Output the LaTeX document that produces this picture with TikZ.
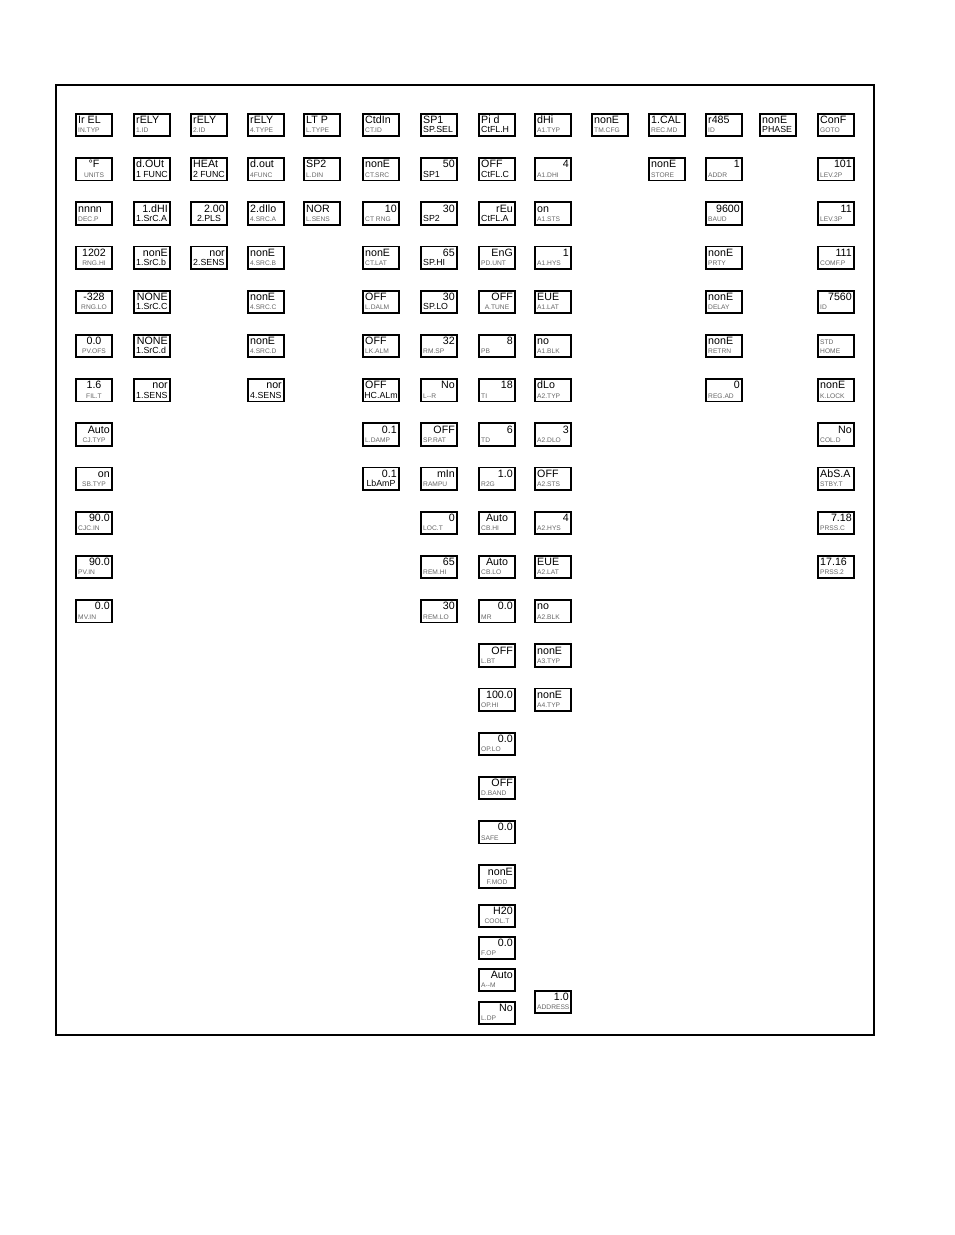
\documentclass[tikz,border=0pt]{standalone}
\usepackage{fontspec}
\setmainfont{Liberation Sans}
\newcommand{\valfont}{\fontsize{8}{8}\selectfont}
\newcommand{\smfont}{\fontsize{5}{5}\selectfont}
\newcommand{\bgfont}{\fontsize{6.6}{6.6}\selectfont}
\tikzset{
  disp/.style={draw, line width=1.35pt, inner sep=0pt, outer sep=0pt,
    minimum width=27.3pt, minimum height=16.8pt},
  val/.style={inner sep=0pt, font=\valfont},
  lsm/.style={inner sep=0pt, font=\smfont, text=black!60},
  lbg/.style={inner sep=0pt, font=\bgfont},
  vl/.style={anchor=base west, at={([xshift=1.6pt,yshift=-7.4pt]#1.north west)}},
  vr/.style={anchor=base east, at={([xshift=-1.6pt,yshift=-7.4pt]#1.north east)}},
  vc/.style={anchor=base, at={([yshift=-7.4pt]#1.north)}},
  ll/.style={anchor=base west, at={([xshift=1.6pt,yshift=2.5pt]#1.south west)}},
  lr/.style={anchor=base east, at={([xshift=-1.6pt,yshift=2.5pt]#1.south east)}},
  lc/.style={anchor=base, at={([yshift=2.5pt]#1.south)}},
  frame/.style={draw, line width=0.9pt}
}
% #1 name, #2 left x, #3 row index, #4 value, #5 value align, #6 label, #7 label align, #8 label size
\newcommand{\dbox}[8]{%
  \node[disp] (#1) at (#2+19,{113+44.2*#3+12}) {};
  \node[val,v#5=#1] (#1v) {#4};
  \node[l#8,l#7=#1] (#1l) {#6};
}
% same but with explicit top y
\newcommand{\dboxy}[8]{%
  \node[disp] (#1) at (#2+19,#3+12) {};
  \node[val,v#5=#1] (#1v) {#4};
  \node[l#8,l#7=#1] (#1l) {#6};
}
\begin{document}
\begin{tikzpicture}[x=0.75pt,y=-0.75pt]
\useasboundingbox (0,0) rectangle (954,1235);
\draw[frame] (56,85) rectangle (874,1035);
% column 1
\dbox{a0}{75}{0}{Ir EL}{l}{IN.TYP}{l}{sm}
\dbox{a1}{75}{1}{°F}{c}{UNITS}{c}{sm}
\dbox{a2}{75}{2}{nnnn}{l}{DEC.P}{l}{sm}
\dbox{a3}{75}{3}{1202}{c}{RNG.HI}{c}{sm}
\dbox{a4}{75}{4}{-328}{c}{RNG.LO}{c}{sm}
\dbox{a5}{75}{5}{0.0}{c}{PV.OFS}{c}{sm}
\dbox{a6}{75}{6}{1.6}{c}{FIL.T}{c}{sm}
\dbox{a7}{75}{7}{Auto}{r}{CJ.TYP}{c}{sm}
\dbox{a8}{75}{8}{on}{r}{SB.TYP}{c}{sm}
\dbox{a9}{75}{9}{90.0}{r}{CJC.IN}{l}{sm}
\dbox{a10}{75}{10}{90.0}{r}{PV.IN}{l}{sm}
\dbox{a11}{75}{11}{0.0}{r}{MV.IN}{l}{sm}
% column 2
\dbox{b0}{133}{0}{rELY}{l}{1.ID}{l}{sm}
\dbox{b1}{133}{1}{d.OUt}{l}{1 FUNC}{r}{bg}
\dbox{b2}{133}{2}{1.dHI}{r}{1.SrC.A}{l}{bg}
\dbox{b3}{133}{3}{nonE}{r}{1.SrC.b}{l}{bg}
\dbox{b4}{133}{4}{NONE}{r}{1.SrC.C}{l}{bg}
\dbox{b5}{133}{5}{NONE}{r}{1.SrC.d}{l}{bg}
\dbox{b6}{133}{6}{nor}{r}{1.SENS}{l}{bg}
% column 3
\dbox{c0}{190}{0}{rELY}{l}{2.ID}{l}{sm}
\dbox{c1}{190}{1}{HEAt}{l}{2 FUNC}{r}{bg}
\dbox{c2}{190}{2}{2.00}{r}{2.PLS}{c}{bg}
\dbox{c3}{190}{3}{nor}{r}{2.SENS}{l}{bg}
% column 4
\dbox{d0}{247}{0}{rELY}{l}{4.TYPE}{l}{sm}
\dbox{d1}{247}{1}{d.out}{l}{4FUNC}{l}{sm}
\dbox{d2}{247}{2}{2.dIlo}{l}{4.SRC.A}{l}{sm}
\dbox{d3}{247}{3}{nonE}{l}{4.SRC.B}{l}{sm}
\dbox{d4}{247}{4}{nonE}{l}{4.SRC.C}{l}{sm}
\dbox{d5}{247}{5}{nonE}{l}{4.SRC.D}{l}{sm}
\dbox{d6}{247}{6}{nor}{r}{4.SENS}{l}{bg}
% column 5
\dbox{e0}{303}{0}{LT P}{l}{L.TYPE}{l}{sm}
\dbox{e1}{303}{1}{SP2}{l}{L.DIN}{l}{sm}
\dbox{e2}{303}{2}{NOR}{l}{L.SENS}{l}{sm}
% column 6
\dbox{f0}{362}{0}{CtdIn}{l}{CT.ID}{l}{sm}
\dbox{f1}{362}{1}{nonE}{l}{CT.SRC}{l}{sm}
\dbox{f2}{362}{2}{10}{r}{CT RNG}{l}{sm}
\dbox{f3}{362}{3}{nonE}{l}{CT.LAT}{l}{sm}
\dbox{f4}{362}{4}{OFF}{l}{L.DALM}{l}{sm}
\dbox{f5}{362}{5}{OFF}{l}{LK.ALM}{l}{sm}
\dbox{f6}{362}{6}{OFF}{l}{HC.ALm}{c}{bg}
\dbox{f7}{362}{7}{0.1}{r}{L.DAMP}{l}{sm}
\dbox{f8}{362}{8}{0.1}{r}{LbAmP}{c}{bg}
% column 7
\dbox{g0}{420}{0}{SP1}{l}{SP.SEL}{l}{bg}
\dbox{g1}{420}{1}{50}{r}{SP1}{l}{bg}
\dbox{g2}{420}{2}{30}{r}{SP2}{l}{bg}
\dbox{g3}{420}{3}{65}{r}{SP.HI}{l}{bg}
\dbox{g4}{420}{4}{30}{r}{SP.LO}{l}{bg}
\dbox{g5}{420}{5}{32}{r}{RM.SP}{l}{sm}
\dbox{g6}{420}{6}{No}{r}{L-{}-R}{l}{sm}
\dbox{g7}{420}{7}{OFF}{r}{SP.RAT}{l}{sm}
\dbox{g8}{420}{8}{mIn}{r}{RAMPU}{l}{sm}
\dbox{g9}{420}{9}{0}{r}{LOC.T}{l}{sm}
\dbox{g10}{420}{10}{65}{r}{REM.HI}{l}{sm}
\dbox{g11}{420}{11}{30}{r}{REM.LO}{l}{sm}
% column 8
\dbox{h0}{478}{0}{Pi d}{l}{CtFL.H}{l}{bg}
\dbox{h1}{478}{1}{OFF}{l}{CtFL.C}{l}{bg}
\dbox{h2}{478}{2}{rEu}{r}{CtFL.A}{l}{bg}
\dbox{h3}{478}{3}{EnG}{r}{PD.UNT}{l}{sm}
\dbox{h4}{478}{4}{OFF}{r}{A.TUNE}{c}{sm}
\dbox{h5}{478}{5}{8}{r}{PB}{l}{sm}
\dbox{h6}{478}{6}{18}{r}{TI}{l}{sm}
\dbox{h7}{478}{7}{6}{r}{TD}{l}{sm}
\dbox{h8}{478}{8}{1.0}{r}{R2G}{l}{sm}
\dbox{h9}{478}{9}{Auto}{c}{CB.HI}{l}{sm}
\dbox{h10}{478}{10}{Auto}{c}{CB.LO}{l}{sm}
\dbox{h11}{478}{11}{0.0}{r}{MR}{l}{sm}
\dbox{h12}{478}{12}{OFF}{r}{L.BT}{l}{sm}
\dbox{h13}{478}{13}{100.0}{r}{OP.HI}{l}{sm}
\dbox{h14}{478}{14}{0.0}{r}{OP.LO}{l}{sm}
\dbox{h15}{478}{15}{OFF}{r}{D.BAND}{l}{sm}
\dbox{h16}{478}{16}{0.0}{r}{SAFE}{l}{sm}
\dbox{h17}{478}{17}{nonE}{r}{F.MOD}{c}{sm}
\dboxy{h18}{478}{904}{H20}{r}{COOL.T}{c}{sm}
\dboxy{h19}{478}{936}{0.0}{r}{F.OP}{l}{sm}
\dboxy{h20}{478}{968}{Auto}{r}{A-{}-M}{l}{sm}
\dboxy{h21}{478}{1001}{No}{r}{L.DP}{l}{sm}
% column 9
\dbox{i0}{534}{0}{dHi}{l}{A1.TYP}{l}{sm}
\dbox{i1}{534}{1}{4}{r}{A1.DHI}{l}{sm}
\dbox{i2}{534}{2}{on}{l}{A1.STS}{l}{sm}
\dbox{i3}{534}{3}{1}{r}{A1.HYS}{l}{sm}
\dbox{i4}{534}{4}{EUE}{l}{A1.LAT}{l}{sm}
\dbox{i5}{534}{5}{no}{l}{A1.BLK}{l}{sm}
\dbox{i6}{534}{6}{dLo}{l}{A2.TYP}{l}{sm}
\dbox{i7}{534}{7}{3}{r}{A2.DLO}{l}{sm}
\dbox{i8}{534}{8}{OFF}{l}{A2.STS}{l}{sm}
\dbox{i9}{534}{9}{4}{r}{A2.HYS}{l}{sm}
\dbox{i10}{534}{10}{EUE}{l}{A2.LAT}{l}{sm}
\dbox{i11}{534}{11}{no}{l}{A2.BLK}{l}{sm}
\dbox{i12}{534}{12}{nonE}{l}{A3.TYP}{l}{sm}
\dbox{i13}{534}{13}{nonE}{l}{A4.TYP}{l}{sm}
\dboxy{i14}{534}{990}{1.0}{r}{ADDRESS}{l}{sm}
% column 10
\dbox{j0}{591}{0}{nonE}{l}{TM.CFG}{l}{sm}
% column 11
\dbox{k0}{648}{0}{1.CAL}{l}{REC.MD}{l}{sm}
\dbox{k1}{648}{1}{nonE}{l}{STORE}{l}{sm}
% column 12
\dbox{m0}{705}{0}{r485}{l}{ID}{l}{sm}
\dbox{m1}{705}{1}{1}{r}{ADDR}{l}{sm}
\dbox{m2}{705}{2}{9600}{r}{BAUD}{l}{sm}
\dbox{m3}{705}{3}{nonE}{l}{PRTY}{l}{sm}
\dbox{m4}{705}{4}{nonE}{l}{DELAY}{l}{sm}
\dbox{m5}{705}{5}{nonE}{l}{RETRN}{l}{sm}
\dbox{m6}{705}{6}{0}{r}{REG.AD}{l}{sm}
% column 13
\dbox{n0}{759}{0}{nonE}{l}{PHASE}{l}{bg}
% column 14
\dbox{p0}{817}{0}{ConF}{l}{GOTO}{l}{sm}
\dbox{p1}{817}{1}{101}{r}{LEV.2P}{l}{sm}
\dbox{p2}{817}{2}{11}{r}{LEV.3P}{l}{sm}
\dbox{p3}{817}{3}{111}{r}{COMF.P}{l}{sm}
\dbox{p4}{817}{4}{7560}{r}{ID}{l}{sm}
\dbox{p5}{817}{5}{{\smfont\color{black!60}STD}}{l}{HOME}{l}{sm}
\dbox{p6}{817}{6}{nonE}{l}{K.LOCK}{l}{sm}
\dbox{p7}{817}{7}{No}{r}{COL.D}{l}{sm}
\dbox{p8}{817}{8}{AbS.A}{l}{STBY.T}{l}{sm}
\dbox{p9}{817}{9}{7.18}{r}{PRSS.C}{l}{sm}
\dbox{p10}{817}{10}{17.16}{l}{PRSS.2}{l}{sm}
\end{tikzpicture}
\end{document}
